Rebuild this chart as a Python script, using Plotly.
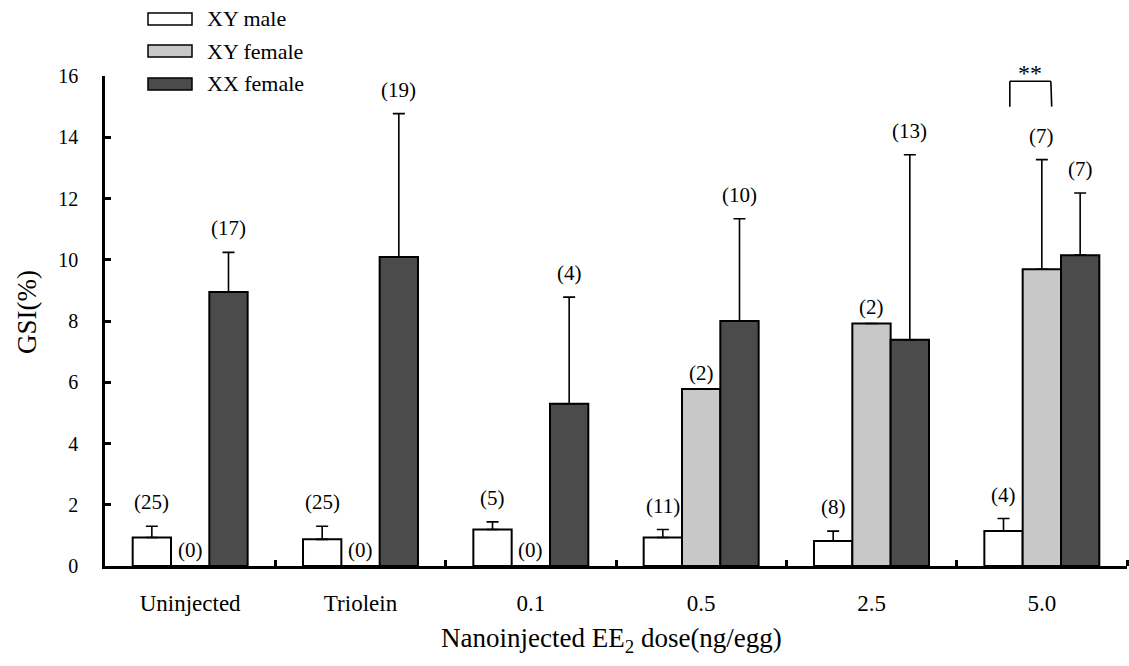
import plotly.graph_objects as go

# ---------------- data ----------------
categories = ["Uninjected", "Triolein", "0.1", "0.5", "2.5", "5.0"]
series_names = ["XY male", "XY female", "XX female"]

xy_male_mean = [0.93, 0.87, 1.19, 0.93, 0.82, 1.14]
xy_male_err = [0.37, 0.43, 0.25, 0.26, 0.32, 0.41]
xy_male_n = [25, 25, 5, 11, 8, 4]

xy_female_mean = [0.0, 0.0, 0.0, 5.78, 7.92, 9.69]
xy_female_err = [None, None, None, None, None, 3.58]
xy_female_n = [0, 0, 0, 2, 2, 7]

xx_female_mean = [8.95, 10.09, 5.30, 8.00, 7.39, 10.15]
xx_female_err = [1.29, 4.68, 3.48, 3.34, 6.04, 2.03]
xx_female_n = [17, 19, 4, 10, 13, 7]

significance_label = "**"

# ---------------- style / layout helpers ----------------
FONT = "Liberation Serif, Times New Roman, serif"
W, H = 1129, 666
L, R, T, B = 105, 2, 76, 100
PW, PH = W - L - R, H - T - B
BARGAP = 0.325
BW = (1 - BARGAP) / 3  # width of one bar in category units


def px_x(px):
    return (px - L) / PW


def px_y(py):
    return (H - B - py) / PH


colors = ["#ffffff", "#c8c8c8", "#4b4b4b"]
means = [xy_male_mean, xy_female_mean, xx_female_mean]
errs = [xy_male_err, xy_female_err, xx_female_err]
ns = [xy_male_n, xy_female_n, xx_female_n]

xidx = list(range(len(categories)))

fig = go.Figure()
for name, m, e, c in zip(series_names, means, errs, colors):
    fig.add_trace(go.Bar(
        x=xidx, y=m, name=name,
        marker=dict(color=c, line=dict(color="black", width=2)),
        error_y=dict(type="data", symmetric=False,
                     array=e, arrayminus=[0] * len(e),
                     color="black", thickness=1.6, width=6),
        showlegend=False,
    ))

annotations = []
# n labels
for si, (m, e, n) in enumerate(zip(means, errs, ns)):
    offset = (si - 1) * BW
    for i in xidx:
        top = m[i] + (e[i] if e[i] is not None else 0)
        annotations.append(dict(
            x=i + offset, y=top, xref="x", yref="y",
            text=f"({n[i]})", showarrow=False,
            yanchor="bottom", xanchor="center",
            yshift=10 if e[i] is not None else 2,
            font=dict(family=FONT, size=21, color="black"),
        ))

# significance bracket between XY male and XY female at 5.0
g = len(categories) - 1
bx0, bx1 = g - 0.188, g + 0.053
by_top, by_bot = 15.83, 15.0
shapes = [
    dict(type="line", xref="x", yref="y", x0=bx0, x1=bx0, y0=by_bot, y1=by_top,
         line=dict(color="black", width=1.6)),
    dict(type="line", xref="x", yref="y", x0=bx0, x1=bx1, y0=by_top, y1=by_top,
         line=dict(color="black", width=1.6)),
    dict(type="line", xref="x", yref="y", x0=bx1, x1=bx1 + 0.005, y0=by_top, y1=by_bot,
         line=dict(color="black", width=1.6)),
]
annotations.append(dict(
    x=(bx0 + bx1) / 2, y=by_top, xref="x", yref="y", text=significance_label,
    showarrow=False, yanchor="bottom", yshift=-7,
    font=dict(family=FONT, size=24, color="black"),
))

# custom legend
leg_rows = [19, 51, 84]
for name, c, ry in zip(series_names, colors, leg_rows):
    shapes.append(dict(type="rect", xref="paper", yref="paper",
                       x0=px_x(148), x1=px_x(192), y0=px_y(ry + 6), y1=px_y(ry - 6),
                       fillcolor=c, line=dict(color="black", width=1.5)))
    annotations.append(dict(x=px_x(205), y=px_y(ry), xref="paper", yref="paper",
                            text=name, showarrow=False, xanchor="left", yanchor="middle",
                            font=dict(family=FONT, size=22, color="black")))

# axis titles
annotations.append(dict(x=px_x(27), y=px_y(312), xref="paper", yref="paper",
                        text="GSI(%)", showarrow=False, textangle=-90,
                        xanchor="center", yanchor="middle",
                        font=dict(family=FONT, size=27, color="black")))
annotations.append(dict(x=px_x(611), y=px_y(640), xref="paper", yref="paper",
                        text="Nanoinjected EE<sub>2</sub> dose(ng/egg)", showarrow=False,
                        xanchor="center", yanchor="middle",
                        font=dict(family=FONT, size=27, color="black")))

fig.update_layout(
    width=W, height=H,
    margin=dict(l=L, r=R, t=T, b=B, pad=0),
    paper_bgcolor="white", plot_bgcolor="white",
    barmode="group", bargap=BARGAP, bargroupgap=0,
    font=dict(family=FONT, color="black"),
    showlegend=False,
    shapes=shapes, annotations=annotations,
    xaxis=dict(
        range=[-0.5, len(categories) - 0.5],
        tickmode="array", tickvals=xidx, ticktext=categories,
        ticks="", showgrid=False, zeroline=False,
        showline=True, linecolor="black", linewidth=2.5,
        tickfont=dict(family=FONT, size=23, color="black"),
        ticklabelstandoff=15,
        minor=dict(tickmode="array", tickvals=[i + 0.5 for i in xidx],
                   ticks="inside", ticklen=6, tickwidth=2.5, tickcolor="black",
                   showgrid=False),
    ),
    yaxis=dict(
        range=[0, 16], dtick=2, tick0=0,
        ticks="inside", ticklen=6, tickwidth=2.5, tickcolor="black",
        showgrid=False, zeroline=False,
        showline=True, linecolor="black", linewidth=2.5,
        tickfont=dict(family=FONT, size=20, color="black"),
        ticklabelstandoff=20,
    ),
)

fig.write_html("out.html")
